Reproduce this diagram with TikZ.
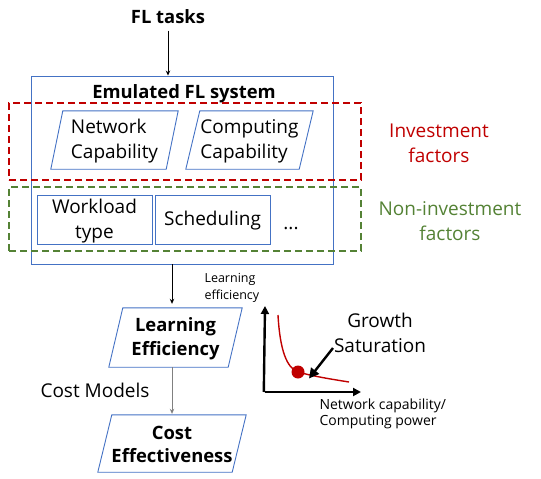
\documentclass[tikz,border=0pt]{standalone}
\usepackage{fontspec}
\setmainfont{Open Sans}
\usetikzlibrary{arrows.meta}
\definecolor{boxblue}{RGB}{68,114,196}
\definecolor{invred}{RGB}{192,0,0}
\definecolor{noninvgreen}{RGB}{84,130,53}
% outline a right-leaning parallelogram over the bounding box of a node
\newcommand{\parashape}[2]{%
  \draw[draw=boxblue,line width=0.9pt]
    (#1.south west) -- ([xshift=#2]#1.north west) -- (#1.north east)
    -- ([xshift=-#2]#1.south east) -- cycle;}
\begin{document}
\begin{tikzpicture}[x=1pt,y=-1pt,
  bigtext/.style={font=\fontsize{19}{25}\selectfont},
  boldtext/.style={font=\fontsize{18.4}{23.5}\selectfont\bfseries},
  smalltext/.style={font=\fontsize{12.5}{17}\selectfont},
  axistext/.style={font=\fontsize{14}{16}\selectfont},
  plainbox/.style={draw=boxblue,line width=0.9pt,rectangle,inner sep=0pt},
  parabox/.style={rectangle,inner sep=0pt},
  factorbox/.style={dash pattern=on 7pt off 4pt,line width=1.6pt,inner sep=0pt},
  flow/.style={-{Stealth[length=5pt,width=4.5pt]},line width=0.7pt},
  axis/.style={-{Triangle[length=8pt,width=8pt]},line width=2.4pt},
]
\useasboundingbox (0,0) rectangle (541,479);

% emulated system and its factor groups
\node[plainbox,minimum width=302pt,minimum height=188pt] (sys) at (182,170) {};
\node[boldtext] (systitle) at (184,94) {Emulated FL system};
\node[draw=invred,factorbox,minimum width=352pt,minimum height=77pt] (inv) at (185,141.5) {};
\node[draw=noninvgreen,factorbox,minimum width=352pt,minimum height=64pt] (noninv) at (185,219) {};

\node[parabox,minimum width=127pt,minimum height=58pt] (net) at (114.5,140) {};
\parashape{net}{12pt}
\node[bigtext,align=left] (nettxt) at ([yshift=-1.5pt]net.center) {Network\\Capability};
\node[parabox,minimum width=127pt,minimum height=58pt] (comp) at (249.5,140) {};
\parashape{comp}{14pt}
\node[bigtext,align=left] (comptxt) at ([yshift=-1.5pt]comp.center) {Computing\\Capability};

\node[plainbox,minimum width=115pt,minimum height=49pt] (work) at (94.5,219.5) {};
\node[bigtext,align=center] (worktxt) at ([yshift=-1.5pt]work.center) {Workload\\type};
\node[plainbox,minimum width=115pt,minimum height=49pt] (sched) at (212.5,219.5) {};
\node[bigtext] (schedtxt) at ([yshift=-1pt]sched.center) {Scheduling};
\node[bigtext] (dots) at (291,229) {...};

\node[bigtext,text=invred,align=center] (invlabel) at (439,143) {Investment\\factors};
\node[bigtext,text=noninvgreen,align=center] (noninvlabel) at (450,221) {Non-investment\\factors};

% input and outputs
\node[boldtext] (tasks) at (168,17) {FL tasks};
\node[parabox,minimum width=133pt,minimum height=59pt] (learn) at (175.5,337.5) {};
\parashape{learn}{14pt}
\node[boldtext,align=center] (learntxt) at ([yshift=-1pt]learn.center) {Learning\\Efficiency};
\node[parabox,minimum width=148pt,minimum height=57pt] (cost) at (172,443.5) {};
\parashape{cost}{14pt}
\node[boldtext,align=center] (costtxt) at ([yshift=-1pt]cost.center) {Cost\\Effectiveness};
\node[bigtext] (costmodels) at (95,390) {Cost Models};

\draw[flow] ([yshift=-3pt]tasks.south) -- (tasks.south |- sys.north);
\draw[flow] (sys.south -| cost.north) -- ([yshift=4pt]learn.north -| cost.north);
\draw[flow,draw=gray] (learn.south -| cost.north) -- ([yshift=1pt]cost.north);

% saturation sketch
\coordinate (origin) at (265,392);
\coordinate (ytop) at (265,306);
\coordinate (xend) at (361,392);
\draw[axis] ([xshift=-1.2pt]origin) -- (ytop);
\draw[axis] (origin) -- (xend);
\coordinate (cstart) at (278,315);
\coordinate (sat) at (298,372);
\coordinate (cend) at (349,382);
\draw[invred,line width=1.4pt] (cstart) .. controls (280,351) and (287,368) .. (sat)
  .. controls (312,376) and (330,379) .. (cend);
\fill[invred] (sat) circle (6.5pt);
\node[smalltext,align=left,anchor=west] (ylabel) at (201,287.5) {Learning\\efficiency};
\node[axistext,align=left,anchor=west] (xlabel) at (316,414) {Network capability/\\Computing power};
\node[bigtext,align=center] (growth) at (380,333) {Growth\\Saturation};
\coordinate (arrowstart) at (333,348);
\draw[-{Triangle[length=10pt,width=10pt]},line width=2.4pt] (arrowstart) -- ([shift={(11pt,-6.5pt)}]sat);
\end{tikzpicture}
\end{document}
